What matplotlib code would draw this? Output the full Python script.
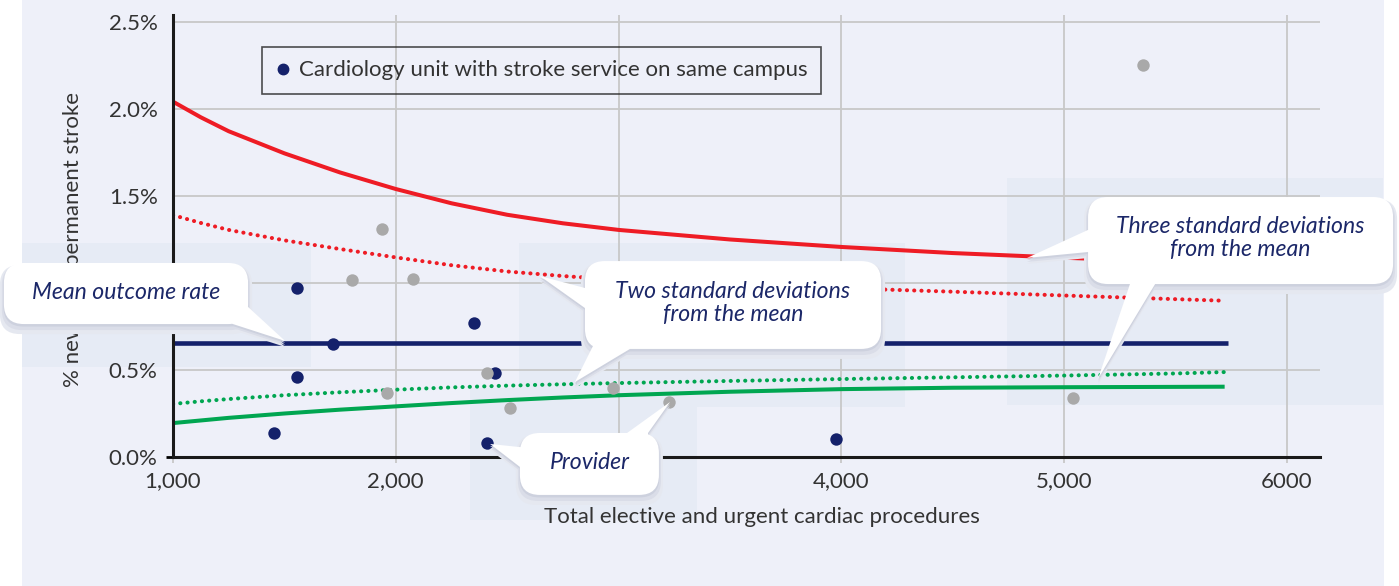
import matplotlib
matplotlib.use("Agg")
import matplotlib.pyplot as plt
from matplotlib.patches import FancyBboxPatch, Polygon, Rectangle
from matplotlib.lines import Line2D
from matplotlib.ticker import FuncFormatter
from matplotlib.transforms import offset_copy

plt.rcParams['font.family'] = ['Lato', 'DejaVu Sans']

# funnel limits (x = procedures, y = % stroke)
limit_x = [1000, 1125, 1250, 1500, 1750, 2000, 2250, 2500, 2750, 3000, 3500,
           4000, 4500, 5000, 5500, 5720]
upper_3sd = [2.042, 1.952, 1.872, 1.745, 1.635, 1.54, 1.458, 1.392, 1.343, 1.305, 1.25,
             1.207, 1.172, 1.145, 1.122, 1.112]
upper_2sd = [1.39, 1.345, 1.305, 1.245, 1.195, 1.147, 1.102, 1.066, 1.04, 1.018, 0.99,
             0.97, 0.95, 0.928, 0.907, 0.898]
lower_2sd = [0.305, 0.32, 0.333, 0.355, 0.372, 0.387, 0.40, 0.41, 0.418, 0.425, 0.437,
             0.448, 0.458, 0.468, 0.48, 0.488]
lower_3sd = [0.195, 0.21, 0.225, 0.25, 0.272, 0.291, 0.31, 0.327, 0.342, 0.355, 0.375,
             0.39, 0.398, 0.401, 0.403, 0.404]
mean_rate = 0.655
mean_x = [1000, 5735]

# providers
same_campus_x = [1453, 1557, 1557, 1717, 2351, 2445, 2409, 3976]
same_campus_y = [0.138, 0.971, 0.46, 0.65, 0.77, 0.483, 0.08, 0.103]
other_x = [1938, 1803, 2077, 1962, 2409, 2513, 2975, 3226, 5039, 5354]
other_y = [1.31, 1.017, 1.023, 0.368, 0.483, 0.282, 0.397, 0.316, 0.339, 2.253]

x_ticks = [1000, 2000, 3000, 4000, 5000, 6000]
x_tick_labels = ['1,000', '2,000', '', '4,000', '5,000', '6000']
y_ticks = [0, 0.5, 1.0, 1.5, 2.0, 2.5]

NAVY = '#14216B'
RED = '#EE1C25'
GREEN = '#00A651'
GRAY = '#A9A9A9'
BG = '#EEF0F9'
SHADE = '#E6EBF5'
TXT = '#1B2768'
DARK = '#333333'

W, H = 1399, 586
fig = plt.figure(figsize=(W / 100, H / 100), dpi=100)
fig.patch.set_facecolor('white')


def fig_rect(x0, y0, x1, y1, color, z):
    # pixel box, y measured from the top
    fig.add_artist(Rectangle((x0 / W, 1 - y1 / H), (x1 - x0) / W, (y1 - y0) / H,
                             transform=fig.transFigure, facecolor=color,
                             edgecolor='none', zorder=z))


fig_rect(22, 0, 1384, 586, BG, -2)
for b in [(22, 243, 311, 367), (470, 388, 697, 520), (519, 243, 905, 407), (1007, 178, 1383, 405)]:
    fig_rect(*b, SHADE, -1)

ax = fig.add_axes([173 / W, 1 - 457 / H, (1320 - 173) / W, (457 - 15) / H])
ax.set_facecolor('none')
ax.set_xlim(1000, 6148)
ax.set_ylim(0, 2.54)

ax.grid(True, color='#C8C8C8', lw=1.3)
ax.set_axisbelow(True)
for s in ['top', 'right']:
    ax.spines[s].set_visible(False)
for s in ['left', 'bottom']:
    ax.spines[s].set_color('#1a1a1a')
    ax.spines[s].set_linewidth(2.2)

ax.set_xticks(x_ticks)
ax.set_xticklabels(x_tick_labels)
ax.set_yticks(y_ticks)
ax.yaxis.set_major_formatter(FuncFormatter(lambda v, p: f'{v:.1f}%'))
ax.tick_params(axis='x', length=4.5, width=1.3, color='#C8C8C8', pad=6,
               labelsize=16, labelcolor=DARK)
ax.tick_params(axis='y', length=0, pad=11, labelsize=16, labelcolor=DARK)
t0 = ax.yaxis.get_major_ticks()[0]
t0.tick1line.set_markersize(5)
t0.tick1line.set_markeredgewidth(2)
t0.tick1line.set_color('#1a1a1a')

ax.set_xlabel('Total elective and urgent cardiac procedures', fontsize=16, color=DARK)
ax.xaxis.set_label_coords(0.5135, -0.112)
ax.text(-0.087, 0.158, '% new', rotation=90, ha='center', va='bottom',
        fontsize=16, color=DARK, transform=ax.transAxes)
ax.text(-0.087, 0.826, 'permanent stroke', rotation=90, ha='center', va='top',
        fontsize=16, color=DARK, transform=ax.transAxes)

# lines
dot = (0, (0.05, 1.75))
ax.plot(limit_x, upper_3sd, color=RED, lw=2.9, zorder=2, solid_capstyle='butt')
ax.plot(limit_x, upper_2sd, color=RED, lw=2.9, ls=dot, dash_capstyle='round', zorder=2)
ax.plot(limit_x, lower_2sd, color=GREEN, lw=2.9, ls=dot, dash_capstyle='round', zorder=2)
ax.plot(limit_x, lower_3sd, color=GREEN, lw=2.9, zorder=2, solid_capstyle='butt')
ax.plot(mean_x, [mean_rate, mean_rate], color=NAVY, lw=3.3, zorder=2, solid_capstyle='butt')

ax.scatter(same_campus_x, same_campus_y, s=80, color=NAVY, zorder=3, lw=0)
ax.scatter(other_x, other_y, s=80, color=GRAY, zorder=4, lw=0)

handle = Line2D([], [], marker='o', color=NAVY, ls='', ms=7.5)
leg = ax.legend([handle], ['Cardiology unit with stroke service on same campus'],
                loc='upper left', bbox_to_anchor=(0.0776, 0.9276), borderaxespad=0,
                fontsize=16, frameon=True, fancybox=False, handlelength=0.7,
                handletextpad=0.35, borderpad=0.6, labelcolor=DARK)
leg.get_frame().set_edgecolor('#222222')
leg.get_frame().set_linewidth(1.2)
leg.get_frame().set_facecolor('none')
leg.set_zorder(6)

# callouts
p0 = ax.transData.transform((0, 0))
p1 = ax.transData.transform((1, 1))
px_x, px_y = p1[0] - p0[0], p1[1] - p0[1]
aspect = px_x / px_y
radius = 20 / px_x


def callout(box, tails, text, tx, ty):
    x0, y0, x1, y1 = box
    layers = [(0, -6, '#E5E8F0', 4), (0, -4, '#DADDE8', 2), (0, -2, '#CDD1DE', 0.5),
              (0, 0, 'white', 0)]
    for dx, dy, col, grow in layers:
        tr = offset_copy(ax.transData, fig=fig, x=dx, y=dy, units='dots')
        g = grow / px_x
        ax.add_patch(FancyBboxPatch((x0, y0), x1 - x0, y1 - y0,
                                    boxstyle=f'round,pad={g},rounding_size={radius}',
                                    mutation_aspect=aspect, transform=tr,
                                    facecolor=col, edgecolor='none', zorder=5,
                                    clip_on=False))
        for t in tails:
            ax.add_patch(Polygon(t, closed=True, transform=tr, facecolor=col,
                                 edgecolor='none', zorder=5, clip_on=False))
    ax.text(tx, ty, text, ha='center', va='center', style='italic', color=TXT,
            fontsize=16.6, linespacing=1.12, zorder=7, clip_on=False)


callout((241, 0.764, 1337, 1.115),
        [[(1200, 0.84), (1269, 0.764), (1503, 0.667), (1337, 0.862), (1300, 0.9)]],
        'Mean outcome rate', 789, 0.945)
callout((2849, 0.621, 4178, 1.126),
        [[(2900, 0.971), (2849, 0.971), (2647, 1.04), (2849, 0.856), (2900, 0.856)],
         [(2885, 0.66), (2885, 0.638), (2804, 0.431), (3051, 0.621), (3051, 0.66)]],
        'Two standard deviations\nfrom the mean', 3513, 0.885)
callout((5107, 0.994, 6476, 1.494),
        [[(5150, 1.305), (5107, 1.305), (4833, 1.144), (5107, 1.178), (5150, 1.178)],
         [(5295, 1.03), (5295, 0.994), (5152, 0.45), (5408, 0.994), (5408, 1.03)]],
        'Three standard deviations\nfrom the mean', 5790, 1.256)
callout((2557, -0.218, 3181, 0.138),
        [[(2600, 0.057), (2557, 0.057), (2423, 0.075), (2557, -0.057), (2600, -0.057)],
         [(3038, 0.1), (3038, 0.138), (3231, 0.316), (3132, 0.138), (3132, 0.1)]],
        'Provider', 2869, -0.03)

fig.savefig('out.png', dpi=100, facecolor=fig.get_facecolor())
